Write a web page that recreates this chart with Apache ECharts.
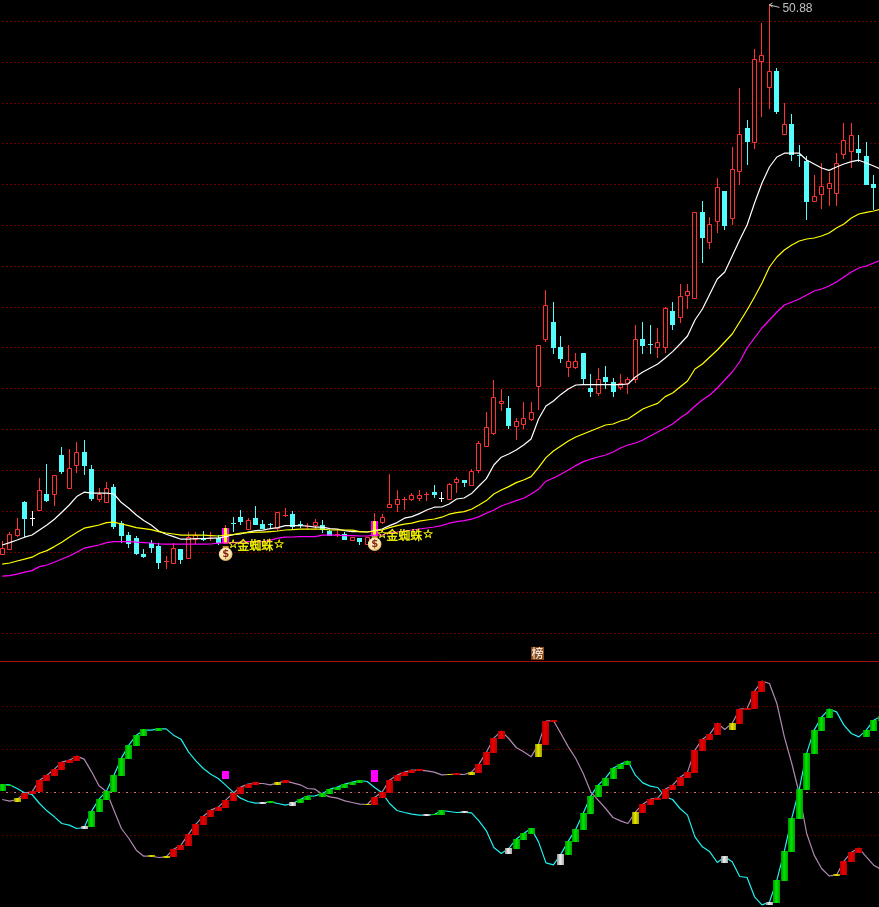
<!DOCTYPE html>
<html><head><meta charset="utf-8">
<style>html,body{margin:0;padding:0;background:#000;overflow:hidden}#c{width:879px;height:907px}</style>
<script src="https://cdn.jsdelivr.net/npm/echarts@6/dist/echarts.min.js"></script>
</head><body><div id="c"></div>
<script>
const openP=[23.42,23.67,24.35,26.0,25.19,25.62,26.4,26.42,28.35,26.72,
27.87,28.5,27.65,26.17,26.02,26.75,24.94,24.35,24.2,23.4,
23.97,23.8,23.06,22.97,23.65,23.22,24.17,24.16,24.17,24.19,
23.94,24.96,25.24,24.65,25.2,24.9,24.9,24.69,25.36,25.4,
24.91,24.79,24.84,24.84,24.55,24.39,24.4,24.12,24.2,23.9,
24.3,25.02,25.77,25.92,26.14,26.15,26.22,26.38,26.52,26.18,
26.17,27.0,27.09,26.85,27.62,28.82,29.47,30.95,30.7,29.82,
29.89,30.17,31.82,34.17,35.0,33.75,32.77,32.77,33.45,31.72,
31.47,32.25,32.0,31.74,31.95,32.14,34.14,33.9,33.75,33.77,
35.55,35.27,36.35,36.22,40.49,39.02,40.07,41.55,40.22,42.57,
44.69,44.02,48.07,46.77,47.55,44.42,44.9,43.35,43.05,41.07,
41.42,41.72,41.44,43.42,43.54,43.65,43.3,41.9,41.75];
const closeP=[23.7,24.39,24.64,25.22,25.2,26.59,26.1,27.34,27.57,27.69,
28.49,27.85,26.19,26.4,26.69,24.8,24.35,23.97,23.45,23.3,
23.77,23.0,23.07,23.69,23.15,24.24,24.37,24.14,24.18,24.02,
24.7,24.94,25.05,25.1,24.9,24.72,24.88,25.49,25.37,24.82,
24.89,24.8,24.99,24.64,24.35,24.4,24.15,24.24,24.07,24.27,
25.05,25.24,25.89,26.14,26.15,26.35,26.35,26.39,26.42,26.19,
26.89,27.14,27.0,27.55,28.94,29.74,31.24,31.05,29.85,30.04,
30.19,30.49,33.84,35.85,33.75,33.2,33.04,33.04,32.2,31.55,
32.14,32.05,31.57,31.94,32.14,34.14,33.85,33.88,34.0,35.7,
34.9,36.3,36.55,40.49,39.27,39.89,41.74,39.85,42.64,44.39,
44.07,48.14,48.34,47.54,45.55,44.89,43.39,43.33,41.05,41.29,
41.79,41.94,42.94,44.09,44.34,43.5,41.9,41.75,41.55];
const lowP=[23.42,23.64,24.24,24.27,24.82,25.6,26.02,25.8,27.4,26.72,
27.47,27.35,26.07,26.0,26.02,24.64,23.97,23.72,23.35,23.2,
23.45,22.67,22.65,22.92,22.9,23.22,23.9,24.07,24.05,23.85,
23.94,24.52,24.85,24.6,24.9,24.69,24.65,24.55,25.24,24.65,
24.69,24.67,24.65,24.47,24.35,24.24,24.15,24.12,23.85,23.9,
24.1,24.89,25.77,25.5,25.6,26.04,26.05,26.05,26.2,26.0,
26.17,26.44,26.74,26.82,27.47,28.82,29.37,30.57,29.67,29.1,
29.65,30.07,30.6,34.0,33.4,32.95,32.25,32.65,31.89,31.25,
31.32,31.65,31.25,31.6,31.4,31.95,33.4,33.4,33.2,33.45,
34.6,34.95,35.65,36.22,37.97,38.65,39.47,39.6,39.85,41.85,
42.85,43.67,45.27,45.65,45.4,44.42,43.05,42.77,40.1,41.07,
40.65,40.8,40.8,43.14,42.7,43.02,41.9,40.6,41.1];
const highP=[24.07,24.52,25.19,26.07,25.55,27.19,27.9,27.34,28.74,28.65,
28.99,29.1,27.84,26.69,27.0,26.89,25.05,24.5,24.3,23.64,
24.09,23.94,23.3,23.97,23.65,24.52,24.5,24.54,24.5,24.37,
24.85,25.24,25.6,25.2,25.8,25.1,24.95,25.52,25.69,25.54,
25.07,24.94,25.15,25.1,24.6,24.64,24.49,24.24,24.2,24.27,
25.44,25.4,27.4,26.6,26.25,26.44,26.6,26.52,26.85,26.5,
26.97,27.27,27.09,27.65,29.05,30.5,32.1,31.65,31.3,30.19,
31.0,31.0,33.84,36.6,36.0,34.3,33.85,33.45,33.45,32.4,
32.7,32.8,32.2,32.4,32.25,34.85,35.0,34.85,34.7,35.75,
36.0,36.9,36.9,40.49,41.04,40.25,42.2,41.55,43.75,46.7,
45.1,48.64,49.95,50.88,47.69,45.94,45.4,43.85,43.29,42.35,
42.95,42.52,43.45,44.94,44.95,44.35,44.0,42.35,41.9];
const whiteMA=[23.85,23.97,24.1,24.24,24.35,24.6,24.85,25.14,25.49,25.85,
26.27,26.49,26.44,26.44,26.44,26.4,25.97,25.69,25.35,25.07,
24.85,24.55,24.39,24.27,24.14,24.14,24.17,24.17,24.19,24.19,
24.27,24.37,24.4,24.49,24.57,24.59,24.67,24.72,24.82,24.82,
24.82,24.8,24.74,24.74,24.67,24.64,24.57,24.52,24.52,24.5,
24.57,24.65,24.82,24.97,25.19,25.27,25.42,25.6,25.74,25.75,
25.9,26.15,26.2,26.42,26.8,27.17,27.85,28.24,28.4,28.6,
28.85,29.15,30.15,30.8,31.05,31.38,31.65,31.85,31.87,31.87,
31.87,31.87,31.87,31.87,31.9,32.25,32.5,32.7,32.9,33.2,
33.52,33.9,34.3,35.1,35.65,36.4,37.15,37.5,38.3,39.1,
39.85,40.95,41.95,42.75,43.25,43.44,43.45,43.44,43.1,42.9,
42.7,42.58,42.75,42.9,43.02,43.09,42.95,42.8,42.63];
const yellowMA=[22.89,22.95,23.05,23.14,23.24,23.44,23.57,23.77,23.99,24.24,
24.47,24.69,24.77,24.85,24.97,24.99,24.9,24.82,24.72,24.67,
24.62,24.52,24.45,24.4,24.34,24.34,24.34,24.34,24.32,24.3,
24.34,24.37,24.44,24.47,24.49,24.49,24.52,24.55,24.6,24.62,
24.64,24.64,24.64,24.64,24.6,24.6,24.6,24.59,24.52,24.5,
24.54,24.6,24.72,24.82,24.89,24.94,25.04,25.1,25.15,25.24,
25.39,25.47,25.52,25.64,25.85,26.07,26.4,26.6,26.77,26.97,
27.1,27.27,27.72,28.22,28.55,28.8,29.05,29.25,29.4,29.55,
29.7,29.85,29.9,30.05,30.15,30.4,30.65,30.8,30.93,31.27,
31.45,31.75,32.05,32.65,32.9,33.25,33.6,34.0,34.4,35.0,
35.6,36.25,36.95,37.75,38.25,38.6,38.85,39.05,39.15,39.2,
39.3,39.45,39.7,39.9,40.2,40.4,40.48,40.55,40.65];
const magentaMA=[22.29,22.32,22.39,22.49,22.57,22.77,22.85,22.99,23.15,23.3,
23.49,23.69,23.77,23.85,23.97,24.02,24.02,24.02,23.99,23.97,
23.95,23.9,23.89,23.89,23.89,23.89,23.89,23.89,23.9,23.94,
23.95,23.97,23.99,24.02,24.02,24.02,24.09,24.19,24.24,24.25,
24.27,24.27,24.27,24.34,24.34,24.34,24.32,24.32,24.3,24.3,
24.34,24.35,24.47,24.5,24.55,24.6,24.65,24.7,24.75,24.82,
24.94,25.02,25.07,25.14,25.27,25.44,25.6,25.8,25.94,26.07,
26.19,26.4,26.64,27.04,27.2,27.39,27.6,27.82,28.02,28.14,
28.25,28.35,28.5,28.7,28.85,28.95,29.1,29.3,29.5,29.7,
29.9,30.2,30.45,30.8,31.1,31.35,31.7,32.1,32.5,33.0,
33.7,34.2,34.7,35.1,35.5,35.85,36.0,36.15,36.35,36.55,
36.65,36.8,37.0,37.25,37.5,37.7,37.8,37.95,38.1];
const cyanLine=[24,23,12,-1,-6,-33,-55,-73,-93,-98,
-108,-105,-56,-20,4,52,103,142,172,187,
187,191,191,172,160,122,95,72,55,42,
22,1,-17,-27,-32,-31,-28,-33,-38,-33,
-21,-11,-10,-3,10,16,25,31,36,33,
15,-1,-33,-54,-60,-65,-68,-68,-66,-54,
-57,-60,-59,-61,-85,-115,-165,-183,-168,-140,
-123,-108,-148,-211,-217,-185,-146,-110,-62,-11,
22,43,73,85,94,52,29,19,15,-13,
-21,-48,-68,-133,-163,-178,-210,-193,-208,-252,
-255,-313,-337,-329,-263,-176,-77,10,118,187,
226,250,242,202,177,167,187,217,229];
const mauveLine=[-21,-26,-21,-2,2,37,52,70,91,97,
109,100,62,20,2,-53,-108,-138,-173,-191,
-191,-195,-193,-170,-158,-125,-95,-71,-53,-44,
-23,-2,16,25,27,27,23,29,34,29,
23,12,10,-5,-13,-17,-25,-30,-35,-36,
-14,1,37,52,61,67,67,65,61,53,
54,55,54,61,85,121,163,184,162,135,
122,107,145,214,216,177,137,102,57,2,
-23,-48,-75,-85,-93,-59,-35,-20,-17,10,
22,46,61,127,160,175,208,189,208,250,
252,304,334,327,267,167,87,-3,-123,-188,
-228,-250,-248,-206,-179,-167,-193,-218,-231];
const barHigh=[25,24,-17,-2,4,37,52,70,91,97,
109,-101,-56,-20,4,52,103,142,172,190,
-188,193,-191,-170,-158,-125,-95,-71,-53,-44,
-23,-2,16,25,31,-29,-26,31,37,-29,
-20,-11,null,-2,10,16,25,31,37,-34,
-14,1,37,52,61,67,70,-65,-65,-53,
55,58,-56,61,85,121,163,184,-167,-140,
-122,-107,145,214,217,-185,-146,-110,-62,-11,
22,43,73,85,94,-59,-35,-20,-17,10,
22,46,61,127,160,175,208,-191,208,250,
253,304,334,-329,-263,-176,-77,10,118,187,
226,250,-245,-206,-179,-167,187,217,229];
const barLow=[4,21,-29,-20,-4,1,34,49,67,88,
94,-110,-104,-59,-23,1,49,100,139,169,
-194,184,-197,-194,-173,-161,-128,-98,-74,-56,
-47,-26,-5,13,22,-35,-32,22,28,-41,
-32,-23,null,-14,-5,7,13,22,28,-38,
-38,-17,-2,34,49,58,64,-71,-68,-68,
52,52,-62,52,58,82,118,160,-185,-170,
-143,-125,106,142,211,-218,-188,-149,-113,-65,
-14,19,40,70,82,-95,-62,-38,-23,-20,
7,19,43,58,124,157,172,-212,187,205,
247,250,301,-338,-332,-266,-179,-80,7,115,
184,223,-251,-248,-209,-182,166,184,214];
const barKind=("ggyrrrrrrr"+"rwgggggggg"+"ygyrrrrrrr"+"rrrrrwgyrw"+"gg_ggggggy"+"rrrrrrrwgg"+"yrwyrrrrwg"+"ggyrrwgggg"+"gggggyrrrr"+"rrrrrrrwyr"+"rrrwgggggg"+"ggyrrrggg").split('');
const signalDays=[30,50];
const signalText=["金蜘蛛","金蜘蛛"];
const signalPrice=[23.85,24.35];
const boxHigh=[64,67];
const boxLow=[40,31];
const whiteDojis=[4,59];
const peakDay=103, peakLabel="50.88";
const boardDay=72, boardPrice=18.43, boardText="榜";
const priceGuides=[50.025,47.975,45.925,43.925,41.875,39.825,37.775,35.725,33.725,31.675,29.625,27.575,25.525,23.475,21.475,19.425];
const indGuides=[258,129,-129];
const categories=openP.map((_,i)=>String(i+1));

const chart=echarts.init(document.getElementById('c'),null,{renderer:'canvas'});
const UP='#FF3232',DOWN='#54FCFC';
const fills={g:['#009000','#00E800','#00A000'],r:['#B00000','#E80000','#B80000'],y:['#909000','#E8E800','#A0A000'],w:['#909090','#F0F0F0','#A8A8A8']};
const lineOf=(name,data,color,ax,z,w)=>({type:'line',name,data,xAxisIndex:ax,yAxisIndex:ax,showSymbol:false,symbol:'none',z,
  lineStyle:{color,width:w||1.2},silent:true});
const guide=(v,color,dash)=>({yAxis:v,lineStyle:{color,type:dash,width:1,opacity:1}});
const markBase={silent:true,symbol:'none',animation:false,label:{show:false}};
const option={
  backgroundColor:'#000',animation:false,
  grid:[{left:-1.5,top:0,width:886.4,height:662,outerBoundsMode:'none'},{left:-1.5,top:662,width:886.4,height:245,outerBoundsMode:'none'}],
  xAxis:[0,1].map(g=>({type:'category',gridIndex:g,data:categories,boundaryGap:true,
    axisLine:{show:g===1,onZero:false,lineStyle:{color:'#A81010',width:1}},position:g===1?'top':'bottom',offset:g===1?1:0,
    axisTick:{show:false},axisLabel:{show:false},splitLine:{show:false}})),
  yAxis:[
    {type:'value',gridIndex:0,min:18,max:51.1,show:false,splitLine:{show:false}},
    {type:'value',gridIndex:1,min:-343.5,max:391.5,show:false,splitLine:{show:false}}
  ],
  series:[
    {type:'custom',name:'K',xAxisIndex:0,yAxisIndex:0,z:3,silent:true,clip:false,
     data:openP.map((o,i)=>[i,o,closeP[i],lowP[i],highP[i]]),encode:{x:0,y:[1,2,3,4]},
     markLine:Object.assign({},markBase,{z:1,data:priceGuides.map(v=>guide(v,'#C80000',[1,3]))}),
     renderItem(p,api){
       const i=api.value(0),o=api.value(1),c=api.value(2);
       const xc=api.coord([i,o])[0],px=Math.floor(xc);
       const yO=Math.round(api.coord([i,o])[1]),yC=Math.round(api.coord([i,c])[1]);
       const yH=Math.round(api.coord([i,api.value(4)])[1]),yL=Math.round(api.coord([i,api.value(3)])[1]);
       const t=Math.min(yO,yC),b=Math.max(yO,yC),h=b-t;
       const up=c>=o;
       const col=whiteDojis.includes(i)?'#FFFFFF':(up?UP:DOWN);
       const kids=[{type:'rect',shape:{x:px,y:yH,width:1,height:Math.max(1,yL-yH)},style:{fill:col}}];
       if(up&&h>=2){
         kids.push({type:'rect',shape:{x:px-1.5,y:t+0.5,width:4,height:h},style:{fill:'#000',stroke:col,lineWidth:1}});
       }else{
         kids.push({type:'rect',shape:{x:px-2,y:t,width:5,height:Math.max(1,h+(up?0:1))},style:{fill:col}});
       }
       return {type:'group',children:kids};
     }},
    {type:'custom',name:'signal',xAxisIndex:0,yAxisIndex:0,z:4,silent:true,
     data:signalDays.map(i=>[i,openP[i],closeP[i]]),encode:{x:0,y:[1,2]},
     renderItem(p,api){
       const t=api.coord([api.value(0),api.value(2)]),b=api.coord([api.value(0),api.value(1)]);
       const px=Math.floor(t[0]),ty=Math.round(t[1]),h=Math.round(b[1])-ty;
       return {type:'group',children:[
         {type:'rect',shape:{x:px-3,y:ty,width:7,height:h},style:{fill:'#FF00FF'}},
         {type:'rect',shape:{x:px-1,y:ty,width:3,height:h},style:{fill:'#FFFF00'}}]};
     }},
    lineOf('MA1',whiteMA,'#FFFFFF',0,5),
    lineOf('MA2',yellowMA,'#FFFF00',0,5),
    lineOf('MA3',magentaMA,'#FF00FF',0,5),
    {type:'custom',name:'signalText',xAxisIndex:0,yAxisIndex:0,z:6,silent:true,
     data:signalDays.map((d,i)=>[d,signalPrice[i]]),encode:{x:0,y:1},
     renderItem(p,api){
       const c=api.coord([api.value(0),api.value(1)]);
       const f='12px "Noto Sans CJK SC"';
       const txt=(s,x,font)=>({type:'text',style:{text:s,x:c[0]+x,y:c[1],fill:'#FFFF00',stroke:'#FFFF00',lineWidth:0.3,font:font||f,textAlign:'center',textVerticalAlign:'middle'}});
       return {type:'group',children:[
         txt('☆',7.5,'bold 12px "DejaVu Sans"'),
         txt(signalText[p.dataIndex],29.5),
         txt('☆',53.5,'bold 12px "DejaVu Sans"'),
         {type:'rect',shape:{x:c[0]-3,y:c[1]+1,width:6,height:3.5},style:{fill:'#C89020'}},
         {type:'circle',shape:{cx:c[0],cy:c[1]+9.3,r:6.8},
          style:{fill:new echarts.graphic.RadialGradient(0.45,0.4,0.7,[{offset:0,color:'#FFF8D8'},{offset:0.65,color:'#F8E0A0'},{offset:1,color:'#C07010'}])}},
         {type:'text',style:{text:'$',x:c[0],y:c[1]+9.5,fill:'#8A2A10',font:'bold 10px "DejaVu Sans"',textAlign:'center',textVerticalAlign:'middle'}}
       ]};
     }},
    {type:'custom',name:'peak',xAxisIndex:0,yAxisIndex:0,z:6,silent:true,
     data:[[peakDay,highP[peakDay]]],encode:{x:0,y:1},
     renderItem(p,api){
       const c=api.coord([api.value(0),api.value(1)]);
       return {type:'group',children:[
         {type:'polyline',shape:{points:[[c[0]+3,c[1]-1.5],[c[0],c[1]+0.5],[c[0]+3,c[1]+2.5]]},style:{stroke:'#C8C8C8',fill:null,lineWidth:1}},
         {type:'polyline',shape:{points:[[c[0],c[1]+0.5],[c[0]+10,c[1]+3]]},style:{stroke:'#C8C8C8',fill:null,lineWidth:1}},
         {type:'text',style:{text:peakLabel,x:c[0]+13,y:c[1]+4,fill:'#C0C0C0',font:'12px "Liberation Sans"',textAlign:'left',textVerticalAlign:'middle'}}
       ]};
     }},
    {type:'custom',name:'board',xAxisIndex:0,yAxisIndex:0,z:6,silent:true,
     data:[[boardDay,boardPrice]],encode:{x:0,y:1},
     renderItem(p,api){
       const c=api.coord([api.value(0),api.value(1)]);
       return {type:'group',children:[
         {type:'rect',shape:{x:c[0]-7.5,y:c[1]-6.5,width:13,height:13},style:{fill:'#8C4A14'}},
         {type:'text',style:{text:boardText,x:c[0]-1,y:c[1],fill:'#FFF',font:'12px "Noto Sans CJK SC"',textAlign:'center',textVerticalAlign:'middle'}}]};
     }},
    Object.assign(lineOf('Cyan',cyanLine,'#20F0F0',1,3),{
      markLine:Object.assign({},markBase,{z:1,data:indGuides.map(v=>guide(v,'#A00000',[1,3])).concat([guide(0,'#D00000',[1,3]),guide(0,'#FFFFFF',[1,7])])})}),
    lineOf('Mauve',mauveLine,'#B088B0',1,3),
    {type:'custom',name:'bars',xAxisIndex:1,yAxisIndex:1,z:4,silent:true,
     data:barHigh.map((h,i)=>[i,h,barLow[i]]).filter(d=>d[1]!==null),encode:{x:0,y:[1,2]},
     renderItem(p,api){
       const i=api.value(0),k=barKind[i];
       if(!fills[k])return null;
       const t=api.coord([i,api.value(1)]),b=api.coord([i,api.value(2)]);
       const c=fills[k];
       const ty=Math.round(t[1]);
       return {type:'rect',shape:{x:Math.floor(t[0])-3,y:ty,width:7,height:Math.max(1,Math.round(b[1])-ty)},
         style:{fill:new echarts.graphic.LinearGradient(0,0,1,0,[{offset:0,color:c[0]},{offset:0.45,color:c[1]},{offset:1,color:c[2]}])}};
     }},
    {type:'custom',name:'boxes',xAxisIndex:1,yAxisIndex:1,z:4,silent:true,
     data:signalDays.map((d,i)=>[d,boxHigh[i],boxLow[i]]),encode:{x:0,y:[1,2]},
     renderItem(p,api){
       const t=api.coord([api.value(0),api.value(1)]),b=api.coord([api.value(0),api.value(2)]);
       const ty=Math.round(t[1]);
       return {type:'rect',shape:{x:Math.floor(t[0])-3,y:ty,width:7,height:Math.round(b[1])-ty},style:{fill:'#FF00FF'}};
     }}
  ]
};
chart.setOption(option);
</script></body></html>
